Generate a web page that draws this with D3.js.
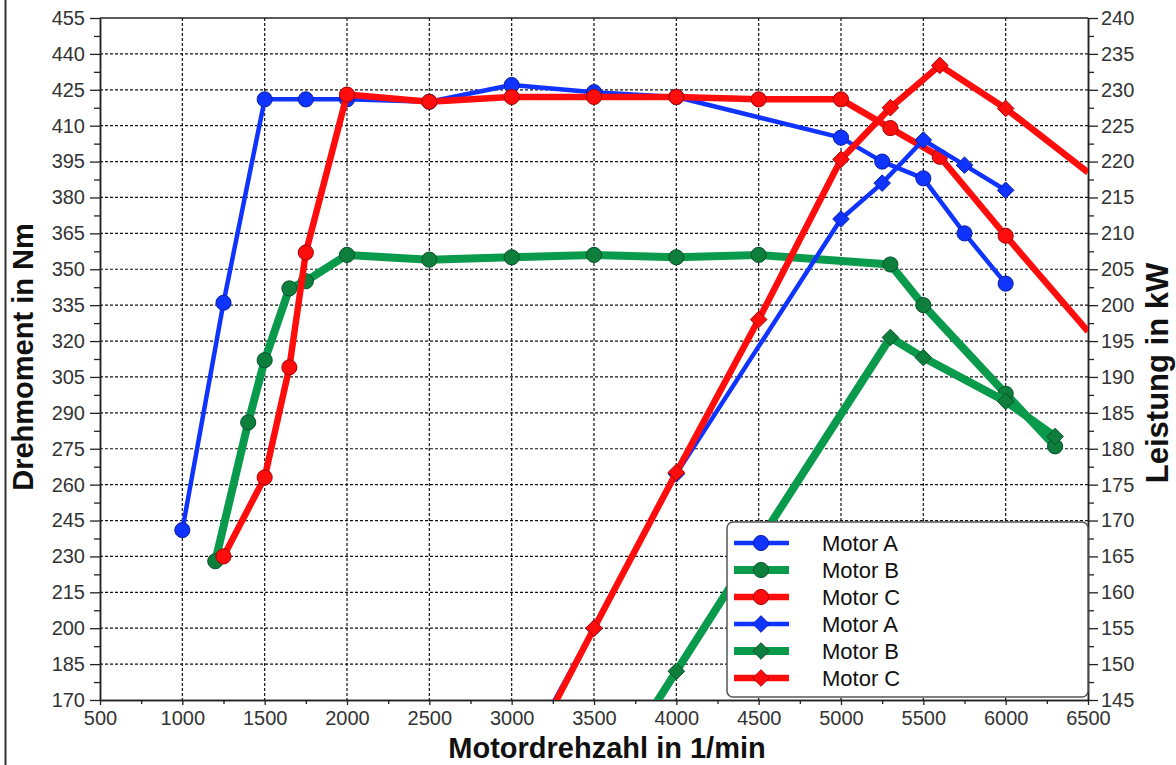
<!DOCTYPE html>
<html>
<head>
<meta charset="utf-8">
<script src="https://cdn.jsdelivr.net/npm/d3@7"></script>
<style>
    body { margin: 0; background: #fff; }
    svg { display: block; font-family: "Liberation Sans", Arial, sans-serif; }
</style>
</head>
<body>
<svg width="1176" height="765"></svg>
<script>
// torque curves (Nm), circles
var rpmA = [1000, 1250, 1500, 1750, 2000, 2500, 3000, 3500, 4000, 5000, 5250, 5500, 5750, 6000];
var torqueA = [241, 336, 421, 421, 421, 420, 427, 424, 422, 405, 395, 388, 365, 344];
var rpmB = [1200, 1400, 1500, 1650, 1750, 2000, 2500, 3000, 3500, 4000, 4500, 5300, 5500, 6000, 6300];
var torqueB = [228, 286, 312, 342, 345, 356, 354, 355, 356, 355, 356, 352, 335, 298, 276];
var rpmC = [1250, 1500, 1650, 1750, 2000, 2500, 3000, 3500, 4000, 4500, 5000, 5300, 5600, 6000, 6500];
var torqueC = [230, 263, 309, 357, 423, 420, 422, 422, 422, 421, 421, 409, 397, 364, 324];

// power curves (kW), diamonds
var powerRpmA = [3000, 3500, 4000, 5000, 5250, 5500, 5750, 6000];
var powerA = [134, 155, 176.5, 212, 217, 223, 219.5, 216];
var powerRpmB = [3500, 4000, 4500, 5300, 5500, 6000, 6300];
var powerB = [131, 149, 167, 195.5, 192.7, 186.6, 181.7];
var powerRpmC = [3000, 3500, 4000, 4500, 5000, 5300, 5600, 6000, 6500];
var powerC = [133, 155, 176.7, 198, 220.3, 227.5, 233.4, 227.4, 218.5];

var motorNames = ["Motor A", "Motor B", "Motor C"];
var xTicks = d3.range(500, 6501, 500);
var torqueTicks = d3.range(170, 456, 15);
var powerTicks = d3.range(145, 241, 5);

document.addEventListener('DOMContentLoaded', function() {
    draw();
});

function draw() {
    var svg = d3.select("svg");
    var left = 100, right = 1088, top = 18, bottom = 700;

    var x = d3.scaleLinear().domain([500, 6500]).range([left, right]);
    var yT = d3.scaleLinear().domain([170, 455]).range([bottom, top]);
    var yP = d3.scaleLinear().domain([145, 240]).range([bottom, top]);

    var styles = [
        { color: "#1034ff", dark: "#0a1f9e", width: 4.5, mfill: "#1034ff" },
        { color: "#0a9a4c", dark: "#06502a", width: 8, mfill: "#0d7e3c" },
        { color: "#ff0d0d", dark: "#a30000", width: 6.5, mfill: "#ff0d0d" }
    ];

    // marker shape: circle for torque, square diamond for power
    function marker(shape) {
        return d3.symbol().type(shape).size(shape === d3.symbolCircle ? 180 : 175)();
    }

    // outer frame line on the left
    svg.append("line")
        .attr("x1", 5.5).attr("x2", 5.5)
        .attr("y1", 0).attr("y2", 765)
        .attr("stroke", "#333").attr("stroke-width", 2);

    svg.append("defs").append("clipPath")
        .attr("id", "plot-clip")
        .append("rect")
        .attr("x", left).attr("y", top)
        .attr("width", right - left).attr("height", bottom - top);

    // grid
    var grid = svg.append("g")
        .attr("stroke", "#111")
        .attr("stroke-width", 1.2)
        .attr("stroke-dasharray", "3,2");
    grid.selectAll(".vgrid")
        .data(xTicks.slice(1, -1))
        .enter().append("line")
        .attr("x1", function(d) { return x(d); })
        .attr("x2", function(d) { return x(d); })
        .attr("y1", top).attr("y2", bottom);
    grid.selectAll(".hgrid")
        .data(torqueTicks.slice(1, -1))
        .enter().append("line")
        .attr("x1", left).attr("x2", right)
        .attr("y1", function(d) { return yT(d); })
        .attr("y2", function(d) { return yT(d); });

    // axes
    function styleAxis(g) {
        g.selectAll("text")
            .attr("font-size", "20px")
            .attr("fill", "#333")
            .attr("font-family", "Liberation Sans, Arial, sans-serif");
        g.selectAll("line").attr("stroke", "#222").attr("stroke-width", 1.3);
        g.select(".domain").attr("stroke", "#222").attr("stroke-width", 1.5);
    }

    svg.append("g")
        .attr("transform", "translate(" + left + ",0)")
        .call(d3.axisLeft(yT).tickValues(torqueTicks).tickSize(10).tickSizeOuter(0).tickPadding(5))
        .call(styleAxis);
    svg.append("g")
        .attr("transform", "translate(" + left + ",0)")
        .call(d3.axisLeft(yT).tickValues(torqueTicks.slice(0, -1).map(function(d) { return d + 7.5; }))
            .tickSize(6).tickSizeOuter(0).tickFormat(""))
        .call(styleAxis);

    svg.append("g")
        .attr("transform", "translate(" + right + ",0)")
        .call(d3.axisRight(yP).tickValues(powerTicks).tickSize(10).tickSizeOuter(0).tickPadding(3))
        .call(styleAxis);
    svg.append("g")
        .attr("transform", "translate(" + right + ",0)")
        .call(d3.axisRight(yP).tickValues(powerTicks.slice(0, -1).map(function(d) { return d + 2.5; }))
            .tickSize(6).tickSizeOuter(0).tickFormat(""))
        .call(styleAxis);

    svg.append("g")
        .attr("transform", "translate(0," + bottom + ")")
        .call(d3.axisBottom(x).tickValues(xTicks).tickSize(5).tickSizeOuter(0).tickPadding(6).tickFormat(d3.format("d")))
        .call(styleAxis);
    svg.append("g")
        .attr("transform", "translate(0," + bottom + ")")
        .call(d3.axisBottom(x).tickValues(xTicks.slice(0, -1).map(function(d) { return d + 250; }))
            .tickSize(4).tickSizeOuter(0).tickFormat(""))
        .call(styleAxis);

    // top border
    svg.append("line")
        .attr("x1", left).attr("x2", right)
        .attr("y1", top).attr("y2", top)
        .attr("stroke", "#222").attr("stroke-width", 1.5);

    // axis titles
    svg.append("text")
        .attr("transform", "translate(33,357) rotate(-90)")
        .attr("text-anchor", "middle")
        .attr("font-size", "29px")
        .attr("font-weight", "bold")
        .attr("fill", "#111")
        .text("Drehmoment in Nm");
    svg.append("text")
        .attr("transform", "translate(1168,373) rotate(-90)")
        .attr("text-anchor", "middle")
        .attr("font-size", "31px")
        .attr("font-weight", "bold")
        .attr("fill", "#111")
        .text("Leistung in kW");
    svg.append("text")
        .attr("x", 607).attr("y", 758)
        .attr("text-anchor", "middle")
        .attr("font-size", "29px")
        .attr("font-weight", "bold")
        .attr("fill", "#111")
        .text("Motordrehzahl in 1/min");

    var series = [
        { rpm: rpmA, val: torqueA, y: yT, s: styles[0], shape: d3.symbolCircle },
        { rpm: rpmB, val: torqueB, y: yT, s: styles[1], shape: d3.symbolCircle },
        { rpm: rpmC, val: torqueC, y: yT, s: styles[2], shape: d3.symbolCircle },
        { rpm: powerRpmA, val: powerA, y: yP, s: styles[0], shape: d3.symbolDiamond2 },
        { rpm: powerRpmB, val: powerB, y: yP, s: styles[1], shape: d3.symbolDiamond2 },
        { rpm: powerRpmC, val: powerC, y: yP, s: styles[2], shape: d3.symbolDiamond2 }
    ];

    var plot = svg.append("g").attr("clip-path", "url(#plot-clip)");

    series.forEach(function(ser) {
        var pts = ser.rpm.map(function(r, i) { return [r, ser.val[i]]; });
        var line = d3.line()
            .x(function(d) { return x(d[0]); })
            .y(function(d) { return ser.y(d[1]); });

        plot.append("path")
            .datum(pts)
            .attr("fill", "none")
            .attr("stroke", ser.s.color)
            .attr("stroke-width", ser.s.width)
            .attr("stroke-linejoin", "round")
            .attr("d", line);

        // no marker on the plot edge
        plot.selectAll(null)
            .data(pts.filter(function(d) { return d[0] < 6500; }))
            .enter().append("path")
            .attr("transform", function(d) { return "translate(" + x(d[0]) + "," + ser.y(d[1]) + ")"; })
            .attr("d", marker(ser.shape))
            .attr("fill", ser.s.mfill)
            .attr("stroke", ser.s.dark)
            .attr("stroke-width", 1);
    });

    // legend
    var lg = svg.append("g");
    lg.append("rect")
        .attr("x", 727).attr("y", 522)
        .attr("width", 361).attr("height", 175)
        .attr("rx", 6)
        .attr("fill", "#fff")
        .attr("stroke", "#555")
        .attr("stroke-width", 1.5);

    var rows = lg.selectAll(".row")
        .data(series)
        .enter().append("g")
        .attr("transform", function(d, i) { return "translate(0," + (543 + i * 27) + ")"; });
    rows.append("line")
        .attr("x1", 734).attr("x2", 789)
        .attr("stroke", function(d) { return d.s.color; })
        .attr("stroke-width", function(d) { return d.s.width; });
    rows.append("path")
        .attr("transform", "translate(761,0)")
        .attr("d", function(d) { return marker(d.shape); })
        .attr("fill", function(d) { return d.s.mfill; })
        .attr("stroke", function(d) { return d.s.dark; })
        .attr("stroke-width", 1);
    rows.append("text")
        .attr("x", 822).attr("y", 8)
        .attr("font-size", "22px")
        .attr("fill", "#111")
        .text(function(d, i) { return motorNames[i % 3]; });
}
</script>
</body>
</html>
